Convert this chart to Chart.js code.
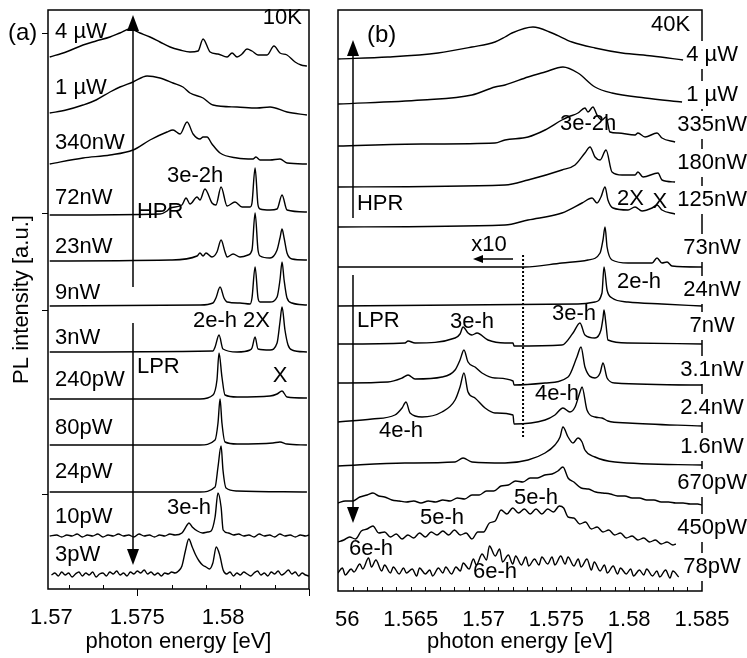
<!DOCTYPE html>
<html><head><meta charset="utf-8">
<script src="https://cdn.jsdelivr.net/npm/chart.js@4"></script>
<style>
html,body{margin:0;padding:0;background:#fff;overflow:hidden;}
#wa{position:absolute;left:0;top:0;width:334px;height:658px;}
#wb{position:absolute;left:334px;top:0;width:413px;height:658px;}
</style></head><body>
<div id="wa"><canvas id="ca"></canvas></div>
<div id="wb"><canvas id="cb"></canvas></div>
<script>
// ---------- Panel (a), 10K : [photon energy eV, intensity a.u. above baseline] ----------
const a_4uW = [[1.5699,0],[1.57085,5],[1.57184,12],[1.5726,16],[1.57341,20],[1.57399,24],[1.57458,28],[1.57516,24],[1.57574,20],[1.57632,15],[1.57691,10],[1.57749,7],[1.57807,5],[1.57854,6],[1.57883,18],[1.57924,5],[1.5797,3],[1.58023,0],[1.58052,4],[1.58081,0],[1.5811,3],[1.58139,8],[1.58168,6],[1.58203,2],[1.58256,2],[1.58296,11],[1.58331,4],[1.58372,2],[1.58419,-5],[1.58454,-8],[1.58488,-9]];
const a_1uW = [[1.5699,0],[1.57085,3],[1.57184,8],[1.5726,13],[1.57341,21],[1.57399,26],[1.57475,31],[1.57557,37],[1.57632,35],[1.57708,30],[1.57766,26],[1.57807,20],[1.57883,15],[1.57941,8],[1.58081,6],[1.58197,5],[1.58273,6],[1.58372,1],[1.58488,-2]];
const a_340nW = [[1.5699,0],[1.57184,6],[1.57341,9],[1.57475,14],[1.57574,24],[1.57673,32],[1.57708,34],[1.57749,30],[1.5779,42],[1.57825,30],[1.57865,25],[1.57883,27],[1.57906,27],[1.57935,20],[1.57982,11],[1.58081,6],[1.58174,5],[1.58191,7],[1.58215,4],[1.58273,4],[1.58331,5],[1.58372,1],[1.58488,0]];
const a_72nW = [[1.5699,0],[1.57632,1],[1.57673,4],[1.57691,7],[1.5776,10],[1.57784,17],[1.57807,11],[1.57848,18],[1.57865,15],[1.57894,26],[1.57935,12],[1.57958,10],[1.57988,28],[1.58023,9],[1.58069,13],[1.5811,8],[1.58157,8],[1.58168,12],[1.58186,47],[1.58203,10],[1.58215,6],[1.58273,5],[1.58314,6],[1.58343,20],[1.58372,5],[1.58488,3]];
const a_23nW = [[1.5699,0],[1.57691,1],[1.57848,5],[1.57865,8],[1.57883,5],[1.579,8],[1.57935,4],[1.57964,9],[1.57988,21],[1.58011,9],[1.58023,4],[1.58058,7],[1.58098,4],[1.58145,6],[1.58168,11],[1.58186,48],[1.58203,11],[1.58215,5],[1.58273,3],[1.58314,11],[1.58331,23],[1.58343,32],[1.58355,23],[1.58372,8],[1.58401,2],[1.58488,1]];
const a_9nW = [[1.5699,0],[1.57865,1],[1.57941,3],[1.57958,8],[1.57982,19],[1.58005,8],[1.58023,4],[1.58098,3],[1.58157,2],[1.58168,8],[1.58186,39],[1.58203,8],[1.58215,4],[1.58273,4],[1.58314,9],[1.58331,26],[1.58343,44],[1.58355,26],[1.58372,8],[1.58401,3],[1.58488,1]];
const a_3nW = [[1.5699,0],[1.57941,1],[1.57953,5],[1.57976,17],[1.57999,3],[1.58081,0],[1.58157,2],[1.58168,4],[1.58186,15],[1.58203,3],[1.58273,2],[1.58314,9],[1.58331,30],[1.58343,45],[1.5836,22],[1.58378,7],[1.58401,2],[1.58488,0]];
const a_240pW = [[1.5699,0],[1.57865,0],[1.57941,4],[1.57964,19],[1.57976,46],[1.57993,22],[1.58011,4],[1.58081,2],[1.58273,3],[1.58314,5],[1.58343,8],[1.58372,2],[1.58488,1]];
const a_80pW = [[1.5699,0],[1.57865,0],[1.57953,5],[1.5797,22],[1.57982,46],[1.57993,22],[1.58011,3],[1.58081,1],[1.5829,2],[1.58331,3],[1.58372,1],[1.58488,0]];
const a_24pW = [[1.5699,0],[1.57865,0],[1.57953,5],[1.5797,25],[1.57988,46],[1.57999,22],[1.58017,4],[1.58081,1],[1.58488,0]];
const a_10pW = [[1.5699,0],[1.5703,1],[1.5706,-1],[1.5709,1],[1.5712,0],[1.5715,2],[1.5718,-1],[1.5721,1],[1.5724,0],[1.5727,2],[1.573,-1],[1.5733,1],[1.5736,0],[1.5739,2],[1.5742,0],[1.5745,1],[1.5748,-1],[1.5751,2],[1.5754,0],[1.5757,1],[1.576,-1],[1.5763,1],[1.5766,0],[1.5769,2],[1.5772,1],[1.5776,3],[1.5779,11],[1.57801,13],[1.5782,9],[1.5785,5],[1.5788,3],[1.5791,4],[1.5793,5],[1.57953,19],[1.5797,43],[1.57988,29],[1.58,6],[1.5803,3],[1.5806,1],[1.5809,2],[1.5812,0],[1.5815,1],[1.5818,-1],[1.5821,2],[1.5824,0],[1.5827,1],[1.583,-1],[1.5833,2],[1.5836,0],[1.5839,1],[1.5842,-1],[1.5845,1],[1.5848,0],[1.585,1]];
const a_3pW = [[1.57,0],[1.5702,2],[1.5704,-1],[1.5706,3],[1.5708,0],[1.571,2],[1.5712,-2],[1.5714,1],[1.5716,3],[1.5718,-1],[1.572,2],[1.5722,0],[1.5724,3],[1.5726,-2],[1.5728,1],[1.573,2],[1.5732,-1],[1.5734,3],[1.5736,1],[1.5738,4],[1.574,0],[1.5742,2],[1.5744,-1],[1.5746,3],[1.5748,1],[1.575,4],[1.5752,2],[1.5754,5],[1.5756,1],[1.5758,3],[1.576,0],[1.5762,2],[1.5764,-1],[1.5766,2],[1.5768,1],[1.577,3],[1.5772,2],[1.5774,4],[1.5776,9],[1.5778,24],[1.578,36],[1.5782,28],[1.5784,20],[1.5786,14],[1.5788,10],[1.579,8],[1.5792,6],[1.5794,12],[1.5796,28],[1.5798,20],[1.58,5],[1.5802,1],[1.5804,3],[1.5806,-1],[1.5808,2],[1.581,0],[1.5812,3],[1.5814,1],[1.5816,-1],[1.5818,2],[1.582,4],[1.5822,0],[1.5824,2],[1.5826,-1],[1.5828,3],[1.583,1],[1.5832,4],[1.5834,0],[1.5836,2],[1.5838,5],[1.584,1],[1.5842,3],[1.5844,-1],[1.5846,2],[1.5848,0],[1.585,-1]];
const spectraA = [a_4uW,a_1uW,a_340nW,a_72nW,a_23nW,a_9nW,a_3nW,a_240pW,a_80pW,a_24pW,a_10pW,a_3pW];
const offsetsA = [532,476,425,374,328,283,237,190,144,97,53,14];
const powerLabelsA = ['4 µW','1 µW','340nW','72nW','23nW','9nW','3nW','240pW','80pW','24pW','10pW','3pW'];
const labelYA = [557,501,446,391,342,296,251,209,161,117,72,34];
const xTicksA = [1.57,1.575,1.58];
const xTickLabelsA = ['1.57','1.575','1.58'];

// ---------- Panel (b), 40K ----------
const b_4uW = [[1.56,0],[1.56343,2],[1.56687,6],[1.5692,12],[1.57078,17],[1.57147,22],[1.57195,26],[1.57339,32],[1.5747,26],[1.57607,17],[1.57765,11],[1.57951,6],[1.58157,3],[1.5837,-1]];
const b_1uW = [[1.56,0],[1.56577,4],[1.5692,9],[1.57078,17],[1.57147,19],[1.57305,27],[1.57422,32],[1.57545,37],[1.57648,31],[1.57765,17],[1.57882,11],[1.58109,6],[1.58363,2]];
const b_335nW = [[1.56,0],[1.56577,2],[1.57078,3],[1.57147,6],[1.57305,9],[1.57422,16],[1.57538,26],[1.5758,29],[1.57648,33],[1.57696,38],[1.57717,34],[1.57751,39],[1.57779,31],[1.57813,26],[1.57841,29],[1.57868,14],[1.57923,13],[1.5804,11],[1.5806,13],[1.58109,9],[1.58191,13],[1.58225,8],[1.58315,4]];
const b_180nW = [[1.56,0],[1.57147,2],[1.57305,7],[1.57538,17],[1.57628,22],[1.57696,34],[1.57731,40],[1.57765,30],[1.578,27],[1.57841,37],[1.57882,15],[1.57951,12],[1.5804,12],[1.5806,15],[1.58095,10],[1.58198,14],[1.58225,7],[1.58315,5]];
const b_125nW = [[1.56,0],[1.57147,2],[1.57305,7],[1.57538,14],[1.57676,24],[1.57745,29],[1.57779,24],[1.57806,30],[1.57834,40],[1.57854,27],[1.57889,19],[1.57992,17],[1.5804,20],[1.58088,16],[1.58157,19],[1.58191,22],[1.58225,17],[1.58315,13]];
const b_73nW = [[1.56,0],[1.57284,0],[1.57538,4],[1.57717,7],[1.578,14],[1.5782,27],[1.57834,40],[1.57848,20],[1.57882,7],[1.57992,4],[1.58157,4],[1.58191,9],[1.58225,4],[1.5826,5],[1.58294,1],[1.585,0]];
const b_24nW = [[1.56,0],[1.57648,2],[1.57765,4],[1.57813,13],[1.57827,39],[1.57848,16],[1.57882,8],[1.57992,4],[1.58225,2],[1.585,0]];
const b_7nW = [[1.56,0],[1.5646,1],[1.56481,3],[1.56529,1],[1.56804,6],[1.56838,10],[1.56859,17],[1.56893,11],[1.5692,9],[1.56955,11],[1.5703,4],[1.57147,1],[1.57202,1],[1.57209,-2],[1.57538,-1],[1.57614,11],[1.57662,21],[1.57696,9],[1.57765,6],[1.57806,14],[1.5782,26],[1.57827,34],[1.57841,19],[1.57854,4],[1.57992,1],[1.585,0]];
const b_3_1nW = [[1.56,0],[1.56343,1],[1.5644,5],[1.56481,8],[1.56529,4],[1.56714,6],[1.56804,13],[1.56838,23],[1.56865,33],[1.56893,21],[1.56941,16],[1.56989,10],[1.57078,5],[1.57202,2],[1.57209,-2],[1.57422,0],[1.5758,6],[1.57641,26],[1.57669,36],[1.57696,16],[1.57765,5],[1.578,10],[1.5782,20],[1.57848,5],[1.57902,0],[1.585,-2]];
const b_2_4nW = [[1.56,0],[1.56234,3],[1.56391,7],[1.5644,14],[1.56467,20],[1.56495,9],[1.56577,5],[1.56714,10],[1.56804,22],[1.56838,35],[1.56865,49],[1.56893,30],[1.56941,24],[1.5701,14],[1.57078,9],[1.57202,7],[1.57209,-2],[1.57422,2],[1.5749,7],[1.57545,14],[1.57593,10],[1.57628,15],[1.57662,30],[1.57676,35],[1.5771,12],[1.57765,5],[1.57813,4],[1.57854,1],[1.57992,-1],[1.585,-4]];
const b_1_6nW = [[1.56,0],[1.5646,3],[1.56804,4],[1.56859,8],[1.5692,4],[1.57147,3],[1.57305,6],[1.57422,13],[1.5749,21],[1.57525,29],[1.57545,39],[1.5758,29],[1.57614,23],[1.57648,28],[1.57676,24],[1.57696,16],[1.57765,9],[1.57902,4],[1.585,1]];
const b_670pW = [[1.56,0],[1.5605,2],[1.561,2],[1.5615,6],[1.562,8],[1.5624,10],[1.5628,7],[1.5632,6],[1.5637,3],[1.5642,2],[1.5647,1],[1.5652,2],[1.5657,0],[1.5662,2],[1.5667,1],[1.5672,3],[1.5677,2],[1.5682,5],[1.5687,4],[1.5692,8],[1.5697,8],[1.5702,12],[1.5707,12],[1.5712,17],[1.5717,18],[1.5722,22],[1.5727,21],[1.5732,25],[1.5737,25],[1.5742,28],[1.5747,29],[1.5751,32],[1.57545,36],[1.5758,25],[1.5762,21],[1.5767,15],[1.5772,14],[1.5777,11],[1.5782,10],[1.5787,9],[1.5792,7],[1.5797,7],[1.5802,5],[1.5807,5],[1.5812,3],[1.5817,3],[1.5822,1],[1.5827,1],[1.5832,0],[1.5837,0],[1.5842,-1],[1.5847,-1],[1.585,-2]];
const b_450pW = [[1.56,0],[1.5604,2],[1.5608,5],[1.5612,3],[1.5616,11],[1.562,13],[1.5624,16],[1.5628,9],[1.5632,10],[1.5636,5],[1.564,8],[1.5644,3],[1.5648,7],[1.5652,4],[1.5656,9],[1.566,5],[1.5664,10],[1.5668,7],[1.5672,11],[1.5676,7],[1.568,12],[1.5684,7],[1.5688,9],[1.5692,3],[1.5696,10],[1.57,10],[1.5704,19],[1.5708,21],[1.5712,32],[1.5716,28],[1.572,34],[1.5724,29],[1.5728,33],[1.5732,28],[1.5736,33],[1.574,28],[1.5744,33],[1.5748,30],[1.5752,36],[1.5755,34],[1.5758,25],[1.5762,24],[1.5766,18],[1.577,20],[1.5774,13],[1.5778,15],[1.5782,10],[1.5786,12],[1.579,7],[1.5794,9],[1.5798,4],[1.5802,6],[1.5806,2],[1.581,4],[1.5814,0],[1.5818,2],[1.5822,-2],[1.5826,0],[1.583,-3],[1.5832,-2]];
const b_78pW = [[1.56,0],[1.5603,5],[1.5605,-2],[1.5609,4],[1.5611,1],[1.5615,9],[1.5617,4],[1.5621,15],[1.5623,6],[1.5626,13],[1.563,2],[1.5632,8],[1.5636,0],[1.5638,6],[1.5642,-1],[1.5645,5],[1.5647,0],[1.5651,4],[1.5654,-3],[1.5656,5],[1.566,-1],[1.5663,3],[1.5665,-3],[1.5669,5],[1.5672,0],[1.5674,6],[1.5678,-1],[1.5681,6],[1.5684,2],[1.5686,10],[1.569,4],[1.5693,14],[1.5695,8],[1.5699,19],[1.5702,13],[1.5704,27],[1.5708,17],[1.5711,24],[1.5713,11],[1.5717,18],[1.572,9],[1.5722,17],[1.5726,8],[1.5729,16],[1.5731,7],[1.5735,14],[1.5738,8],[1.574,16],[1.5744,9],[1.5747,16],[1.5749,8],[1.5753,17],[1.5756,9],[1.5758,16],[1.5762,7],[1.5765,14],[1.5767,6],[1.5771,14],[1.5774,3],[1.5776,11],[1.578,2],[1.5783,8],[1.5785,0],[1.5789,7],[1.5792,-1],[1.5794,5],[1.5798,-1],[1.5801,4],[1.5803,-3],[1.5807,3],[1.581,-2],[1.5812,4],[1.5816,-3],[1.5819,2],[1.5821,-4],[1.5825,3],[1.5828,-5],[1.583,2],[1.5834,-4]];
const spectraB = [b_4uW,b_1uW,b_335nW,b_180nW,b_125nW,b_73nW,b_24nW,b_7nW,b_3_1nW,b_2_4nW,b_1_6nW,b_670pW,b_450pW,b_78pW];
const offsetsB = [532,487,445,404,364,324,285,247,208,169,125,88,49,18];
const powerLabelsB = ['4 µW','1 µW','335nW','180nW','125nW','73nW','24nW','7nW','3.1nW','2.4nW','1.6nW','670pW','450pW','78pW'];
const labelYB = [536,496,466,428,391,343,301,265,221,183,144,108,63,24];
const xTicksB = [1.56,1.565,1.57,1.575,1.58,1.585];
const xTickLabelsB = ['1.56','1.565','1.57','1.575','1.58','1.585'];

// ---------- annotations (data coordinates) ----------
const annotA = {
  powerX: 1.57021, powerAlign: 'left', powerBg: false,
  texts: [['(a)',1.56747,556,'left',24],['10K',1.58459,571,'right'],['3e-2h',1.57673,413,'left'],['HPR',1.57498,377,'left'],
          ['2e-h 2X',1.57824,268,'left'],['LPR',1.57498,222,'left'],['X',1.58331,213,'center'],['3e-h',1.57673,81,'left']],
  vArrows: [[1.57475,302,574],[1.57475,266,24]],
  hArrows: [], dotted: [],
  minorX: [1.571,1.573,1.577,1.579,1.581,1.583], majorX: [1.575,1.585], majorY: [556,376,279,95]
};
const annotB = {
  powerX: 1.58569, powerAlign: 'center', powerBg: true,
  texts: [['(b)',1.56199,556,'left',24],['40K',1.58418,566,'right'],['HPR',1.5613,387,'left'],['LPR',1.5613,270,'left'],
          ['3e-h',1.56769,269,'left'],['3e-2h',1.57525,467,'left'],['2X',1.57916,392,'left'],['X',1.58211,389,'center'],
          ['x10',1.57037,346,'center'],['2e-h',1.57916,309,'left'],['3e-h',1.57621,277,'center'],['4e-h',1.57504,197,'center'],
          ['4e-h',1.56433,160,'center'],['5e-h',1.56714,73,'center'],['5e-h',1.5736,93,'center'],['6e-h',1.56227,42,'center'],['6e-h',1.57078,19,'center']],
  vArrows: [[1.56103,373,551],[1.56103,316,68]],
  hArrows: [[1.57202,1.56927,332]], dotted: [[1.57271,336,154]],
  minorX: [1.561,1.562,1.563,1.564,1.565,1.566,1.567,1.568,1.569,1.57,1.571,1.572,1.573,1.574,1.575,1.576,1.577,1.578,1.579,1.58,1.581,1.582,1.583,1.584],
  majorX: [], majorY: []
};

const FONT = "'Liberation Sans', Arial, Helvetica, sans-serif";
Chart.defaults.font.family = FONT;
Chart.defaults.color = '#000';

function annotPlugin(p, powerLabels, labelY) {
  return {
    id: 'annot',
    afterDraw(chart) {
      const {ctx, chartArea: ca, scales: {x, y}} = chart;
      const X = v => x.getPixelForValue(v), Y = v => y.getPixelForValue(v);
      ctx.save();
      ctx.strokeStyle = '#000'; ctx.fillStyle = '#000';
      ctx.lineWidth = 1.5;
      ctx.strokeRect(ca.left, ca.top, ca.right - ca.left, ca.bottom - ca.top);
      ctx.lineWidth = 1;
      ctx.beginPath();
      p.minorX.forEach(v => { const px = Math.round(X(v)) + 0.5; ctx.moveTo(px, ca.bottom); ctx.lineTo(px, ca.bottom - 4); });
      p.majorX.forEach(v => { const px = Math.round(X(v)) + 0.5; ctx.moveTo(px, ca.bottom); ctx.lineTo(px, ca.bottom + 7); });
      p.majorY.forEach(v => { const py = Math.round(Y(v)) + 0.5; ctx.moveTo(ca.left, py); ctx.lineTo(ca.left - 6, py); });
      ctx.stroke();
      p.dotted.forEach(([e, y0, y1]) => {
        ctx.save(); ctx.setLineDash([2, 2]); ctx.lineWidth = 2;
        ctx.beginPath(); ctx.moveTo(X(e), Y(y0)); ctx.lineTo(X(e), Y(y1)); ctx.stroke(); ctx.restore();
      });
      ctx.lineWidth = 1.5;
      p.vArrows.forEach(([e, y0, y1]) => {
        const px = X(e), p0 = Y(y0), p1 = Y(y1), dir = p1 < p0 ? -1 : 1, hl = 16, hw = 6;
        ctx.beginPath(); ctx.moveTo(px, p0); ctx.lineTo(px, p1 - dir * hl); ctx.stroke();
        ctx.beginPath(); ctx.moveTo(px, p1); ctx.lineTo(px - hw, p1 - dir * hl); ctx.lineTo(px + hw, p1 - dir * hl); ctx.closePath(); ctx.fill();
      });
      p.hArrows.forEach(([e0, e1, v]) => {
        const p0 = X(e0), p1 = X(e1), py = Y(v), dir = p1 < p0 ? -1 : 1, hl = 10, hw = 4;
        ctx.beginPath(); ctx.moveTo(p0, py); ctx.lineTo(p1 - dir * hl, py); ctx.stroke();
        ctx.beginPath(); ctx.moveTo(p1, py); ctx.lineTo(p1 - dir * hl, py - hw); ctx.lineTo(p1 - dir * hl, py + hw); ctx.closePath(); ctx.fill();
      });
      ctx.textBaseline = 'middle';
      p.texts.forEach(([t, e, v, align, size]) => {
        ctx.font = (size || 22) + 'px ' + FONT; ctx.textAlign = align; ctx.fillText(t, X(e), Y(v));
      });
      ctx.font = '22px ' + FONT; ctx.textAlign = p.powerAlign;
      powerLabels.forEach((t, i) => {
        const px = X(p.powerX), py = Y(labelY[i]);
        if (p.powerBg) {
          const w = ctx.measureText(t).width + 4;
          ctx.fillStyle = '#fff'; ctx.fillRect(px - w / 2, py - 14, w, 28); ctx.fillStyle = '#000';
        }
        ctx.fillText(t, px, py);
      });
      ctx.restore();
    }
  };
}

function makeChart(id, spectra, offsets, xr, yMax, xTicks, xTickLabels, pad, showY, bottomH, annot, powerLabels, labelY) {
  return new Chart(document.getElementById(id), {
    type: 'scatter',
    data: {
      datasets: spectra.map((s, i) => ({
        data: s.map(p => ({x: p[0], y: p[1] + offsets[i]})),
        showLine: true, pointRadius: 0, borderColor: '#000', borderWidth: 1.4,
        cubicInterpolationMode: 'monotone', fill: false
      }))
    },
    options: {
      responsive: true, maintainAspectRatio: false, animation: false, devicePixelRatio: 1, events: [],
      layout: {padding: pad},
      plugins: {legend: {display: false}, tooltip: {enabled: false}},
      scales: {
        x: {
          type: 'linear', min: xr[0], max: xr[1],
          grid: {display: false, drawTicks: false, tickLength: 0}, border: {display: false},
          afterBuildTicks: s => { s.ticks = xTicks.map(v => ({value: v})); },
          afterFit: s => { s.height = bottomH; s.paddingLeft = 0; s.paddingRight = 0; },
          ticks: {autoSkip: false, maxRotation: 0, minRotation: 0, padding: 16, color: '#000', font: {size: 22},
                  callback: (v, i) => xTickLabels[i]},
          title: {display: true, text: 'photon energy [eV]', color: '#000', font: {size: 22}, padding: {top: 0, bottom: 3}}
        },
        y: {
          type: 'linear', min: 0, max: yMax, display: showY,
          grid: {display: false, drawTicks: false}, border: {display: false},
          ticks: {display: false},
          afterFit: s => { s.width = showY ? 48 : 0; },
          title: {display: showY, text: 'PL intensity [a.u.]', color: '#000', font: {size: 22}, padding: {top: 9, bottom: 0}}
        }
      }
    },
    plugins: [annotPlugin(annot, powerLabels, labelY)]
  });
}

makeChart('ca', spectraA, offsetsA, [1.5698, 1.585], 579, xTicksA, xTickLabelsA,
  {left: 0, right: 25, top: 10, bottom: 0}, true, 69, annotA, powerLabelsA, labelYA);
makeChart('cb', spectraB, offsetsB, [1.56, 1.585], 581, xTicksB, xTickLabelsB,
  {left: 4, right: 45, top: 10, bottom: 0}, false, 67, annotB, powerLabelsB, labelYB);
</script></body></html>
